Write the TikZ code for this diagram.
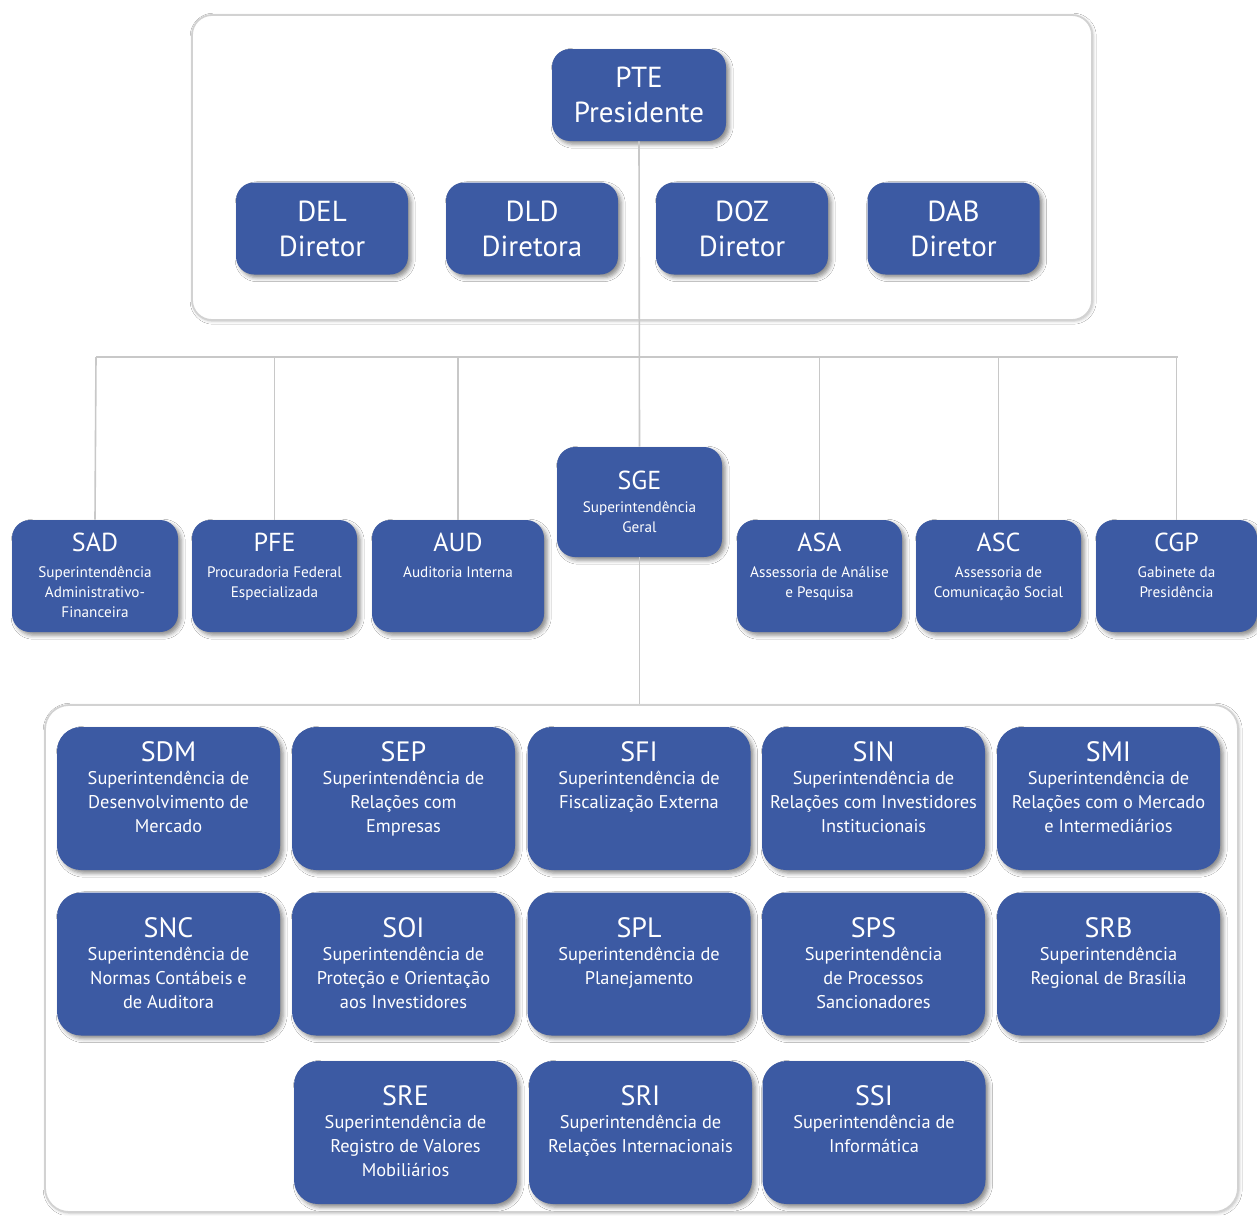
\documentclass[tikz,border=0pt]{standalone}
\usepackage{fontspec}
\setmainfont{PT Sans}
\usetikzlibrary{shadows.blur}
\definecolor{cvmblue}{RGB}{60,90,163}
\definecolor{linegray}{RGB}{200,200,200}
\definecolor{framegray}{RGB}{210,210,210}
\tikzset{
  unitbox/.style={fill=cvmblue, draw=none, inner sep=0pt,
    blur shadow={shadow xshift=1.6pt, shadow yshift=-1.6pt, shadow blur radius=2pt, shadow opacity=45}},
  topbox/.style={unitbox, rounded corners=9pt},
  midbox/.style={unitbox, rounded corners=9pt, minimum height=56pt},
  lowbox/.style={unitbox, rounded corners=12pt, minimum width=111.5pt, minimum height=71.5pt},
  toptext/.style={text=white, align=center, inner sep=0pt, font=\fontsize{14.5}{17.5}\selectfont},
  midtitle/.style={text=white, inner sep=0pt, font=\fontsize{13}{14}\selectfont},
  middesc/.style={text=white, align=center, inner sep=0pt, anchor=north, font=\fontsize{7.6}{10}\selectfont},
  lowtitle/.style={text=white, inner sep=0pt, font=\fontsize{14}{16}\selectfont},
  lowdesc/.style={text=white, align=center, inner sep=0pt, anchor=north, font=\fontsize{9.2}{12}\selectfont},
  frame/.style={draw=framegray, line width=0.9pt, fill=white, inner sep=0pt,
    blur shadow={shadow xshift=0.6pt, shadow yshift=-0.6pt, shadow blur radius=1.5pt, shadow opacity=25}},
  conn/.style={draw=linegray, line width=0.8pt},
}
\newcommand\topunit[5]{% name, x, y, width, text
  \node[topbox, minimum width=#4, minimum height=46pt] (#1) at (#2,#3) {};
  \node[toptext] (#1t) at (#2,#3) {#5};
}
\newcommand\lowunit[7]{% name, x, y, ytitle, ydesc, title, desc
  \node[lowbox] (#1) at (#2,#3) {};
  \node[lowtitle] (#1t) at (#2,#4) {#6};
  \node[lowdesc] (#1d) at (#2,#5) {#7};
}
\newcommand\midunit[8]{% name, x, y, width, ytitle, ydesc, title, desc
  \node[midbox, minimum width=#4] (#1) at (#2,#3) {};
  \node[midtitle] (#1t) at (#2,#5) {#7};
  \node[middesc] (#1d) at (#2,#6) {#8};
}
\begin{document}
\begin{tikzpicture}[x=0.5pt,y=-0.5pt]
\useasboundingbox[fill=white] (0,0) rectangle (1257,1215);
% frames
\node[frame, rounded corners=10pt, minimum width=450pt, minimum height=152.5pt] (topframe) at (642,167.5) {};
\node[frame, rounded corners=12pt, minimum width=596.5pt, minimum height=253.5pt] (lowframe) at (641.5,958.5) {};
% bus coordinates
\coordinate (busL) at (96,357);
\coordinate (busR) at (1178,357);
% top units
\topunit{pte}{639}{95}{87pt}{PTE\\Presidente}
\topunit{del}{322}{228.5}{86pt}{DEL\\Diretor}
\topunit{dld}{532}{228.5}{86pt}{DLD\\Diretora}
\topunit{doz}{742}{228.5}{86pt}{DOZ\\Diretor}
\topunit{dab}{953.5}{228.5}{86pt}{DAB\\Diretor}
% middle units
\midunit{sad}{95}{576}{83pt}{542}{566}{SAD}{Superintendência\\Administrativo-\\Financeira}
\midunit{pfe}{274.5}{576}{82.5pt}{542}{566}{PFE}{Procuradoria Federal\\Especializada}
\midunit{aud}{458}{576}{86pt}{542}{566}{AUD}{Auditoria Interna}
\node[unitbox, rounded corners=9pt, minimum width=82.5pt, minimum height=55pt] (sge) at (639.5,502) {};
\node[midtitle] (sget) at (639.5,480) {SGE};
\node[middesc] (sged) at (639.5,501) {Superintendência\\Geral};
\midunit{asa}{819.5}{576}{82.5pt}{542}{566}{ASA}{Assessoria de Análise\\e Pesquisa}
\midunit{asc}{998.5}{576}{82.5pt}{542}{566}{ASC}{Assessoria de\\Comunicação Social}
\midunit{cgp}{1176.5}{576}{80.5pt}{542}{566}{CGP}{Gabinete da\\Presidência}
% lower units
\lowunit{sdm}{168.5}{798.5}{752}{771}{SDM}{Superintendência de\\Desenvolvimento de\\Mercado}
\lowunit{sep}{403.5}{798.5}{752}{771}{SEP}{Superintendência de\\Relações com\\Empresas}
\lowunit{sfi}{639}{798.5}{752}{771}{SFI}{Superintendência de\\Fiscalização Externa}
\lowunit{sin}{873.5}{798.5}{752}{771}{SIN}{Superintendência de\\Relações com Investidores\\Institucionais}
\lowunit{smi}{1108.5}{798.5}{752}{771}{SMI}{Superintendência de\\Relações com o Mercado\\e Intermediários}
\lowunit{snc}{168.5}{964}{928}{947}{SNC}{Superintendência de\\Normas Contábeis e\\de Auditora}
\lowunit{soi}{403.5}{964}{928}{947}{SOI}{Superintendência de\\Proteção e Orientação\\aos Investidores}
\lowunit{spl}{639}{964}{928}{947}{SPL}{Superintendência de\\Planejamento}
\lowunit{sps}{873.5}{964}{928}{947}{SPS}{Superintendência\\de Processos\\Sancionadores}
\lowunit{srb}{1108.5}{964}{928}{947}{SRB}{Superintendência\\Regional de Brasília}
\lowunit{sre}{405.5}{1132.5}{1096}{1115}{SRE}{Superintendência de\\Registro de Valores\\Mobiliários}
\lowunit{sri}{640.5}{1132.5}{1096}{1115}{SRI}{Superintendência de\\Relações Internacionais}
\lowunit{ssi}{874}{1132.5}{1096}{1115}{SSI}{Superintendência de\\Informática}
% connectors
\draw[conn] (pte.south) -- (sge.north);
\draw[conn] (sge.south) -- (sge.south |- lowframe.north);
\draw[conn] (busL) -- (busR);
\draw[conn] (busL) -- (sad.north);
\draw[conn] (pfe.north) -- (pfe.north |- busL);
\draw[conn] (aud.north) -- (aud.north |- busL);
\draw[conn] (asa.north) -- (asa.north |- busL);
\draw[conn] (asc.north) -- (asc.north |- busL);
\draw[conn] (cgp.north) -- (cgp.north |- busL);
\end{tikzpicture}
\end{document}
